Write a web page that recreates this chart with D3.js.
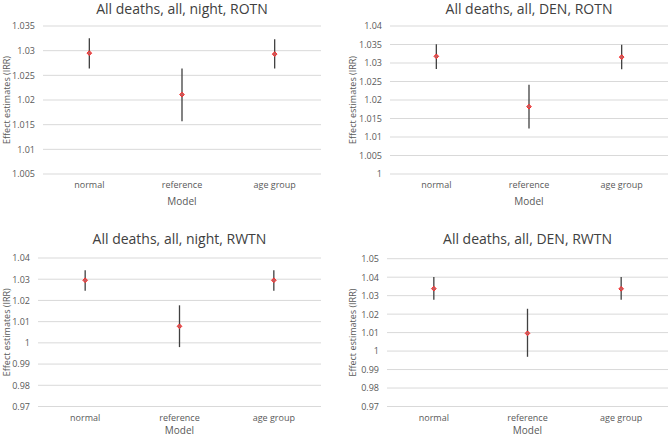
<!DOCTYPE html>
<html>
<head>
<meta charset="utf-8">
<script src="https://cdn.jsdelivr.net/npm/d3@7"></script>
<style>
  body { margin: 0; background: #fff; }
  svg text { font-family: "Open Sans", "Noto Sans", sans-serif; }
</style>
</head>
<body>
<script>
const models = ['normal', 'reference', 'age group'];

// estimate, lower, upper per model
const nightRotnEst = [1.0295, 1.0211, 1.0293];
const nightRotnLow = [1.0264, 1.0157, 1.0264];
const nightRotnHigh = [1.0325, 1.0264, 1.0323];

const denRotnEst = [1.0318, 1.0182, 1.0316];
const denRotnLow = [1.0284, 1.0123, 1.0283];
const denRotnHigh = [1.0351, 1.0241, 1.0349];

const nightRwtnEst = [1.0295, 1.0078, 1.0295];
const nightRwtnLow = [1.0246, 0.9980, 1.0246];
const nightRwtnHigh = [1.0342, 1.0177, 1.0342];

const denRwtnEst = [1.0338, 1.0096, 1.0337];
const denRwtnLow = [1.0278, 0.9969, 1.0278];
const denRwtnHigh = [1.0401, 1.0229, 1.0401];

const ticksNightRotn = ['1.005', '1.01', '1.015', '1.02', '1.025', '1.03', '1.035'];
const ticksDenRotn = ['1', '1.005', '1.01', '1.015', '1.02', '1.025', '1.03', '1.035', '1.04'];
const ticksNightRwtn = ['0.97', '0.98', '0.99', '1', '1.01', '1.02', '1.03', '1.04'];
const ticksDenRwtn = ['0.97', '0.98', '0.99', '1', '1.01', '1.02', '1.03', '1.04', '1.05'];

const panels = [
  { title: 'All deaths, all, night, ROTN', est: nightRotnEst, low: nightRotnLow, high: nightRotnHigh,
    ticks: ticksNightRotn, x0: 43, x1: 321, y0: 26, y1: 174, titleY: 14, modelY: 205, labelX: 10 },
  { title: 'All deaths, all, DEN, ROTN', est: denRotnEst, low: denRotnLow, high: denRotnHigh,
    ticks: ticksDenRotn, x0: 390, x1: 668, y0: 26, y1: 174, titleY: 14, modelY: 205, labelX: 356 },
  { title: 'All deaths, all, night, RWTN', est: nightRwtnEst, low: nightRwtnLow, high: nightRwtnHigh,
    ticks: ticksNightRwtn, x0: 38, x1: 321, y0: 258, y1: 406.5, titleY: 244, modelY: 434, labelX: 10 },
  { title: 'All deaths, all, DEN, RWTN', est: denRwtnEst, low: denRwtnLow, high: denRwtnHigh,
    ticks: ticksDenRwtn, x0: 387, x1: 668, y0: 258.7, y1: 406.5, titleY: 244, modelY: 434, labelX: 356 }
];

const svg = d3.select('body')
  .append('svg')
  .attr('width', 669)
  .attr('height', 437);

panels.forEach(p => draw(p));

function draw(p) {
  const g = svg.append('g');
  const tickVals = p.ticks.map(Number);

  const x = d3.scaleBand()
    .domain(models)
    .range([p.x0, p.x1]);

  const y = d3.scaleLinear()
    .domain(d3.extent(tickVals))
    .range([p.y1, p.y0]);

  // gridlines
  g.append('g')
    .selectAll('line')
    .data(tickVals)
    .enter()
    .append('line')
    .attr('x1', p.x0)
    .attr('x2', p.x1)
    .attr('y1', d => y(d))
    .attr('y2', d => y(d))
    .attr('stroke', '#d9d9d9')
    .attr('stroke-width', 1);

  const yAxis = g.append('g')
    .attr('transform', `translate(${p.x0},0)`)
    .call(d3.axisLeft(y).tickValues(tickVals).tickSize(0).tickPadding(8)
      .tickFormat((d, i) => p.ticks[i]));
  yAxis.select('.domain').remove();
  yAxis.selectAll('text')
    .attr('fill', '#595959')
    .style('font-size', '9px');

  const xAxis = g.append('g')
    .attr('transform', `translate(0,${p.y1})`)
    .call(d3.axisBottom(x).tickSize(0).tickPadding(8));
  xAxis.select('.domain').remove();
  xAxis.selectAll('text')
    .attr('fill', '#595959')
    .style('font-size', '9px');

  g.append('text')
    .attr('x', (p.x0 + p.x1) / 2)
    .attr('y', p.titleY)
    .attr('text-anchor', 'middle')
    .attr('fill', '#404040')
    .style('font-size', '14px')
    .text(p.title);

  g.append('text')
    .attr('x', (p.x0 + p.x1) / 2)
    .attr('y', p.modelY)
    .attr('text-anchor', 'middle')
    .attr('fill', '#595959')
    .style('font-size', '10px')
    .text('Model');

  g.append('text')
    .attr('transform', `translate(${p.labelX},${(p.y0 + p.y1) / 2}) rotate(-90)`)
    .attr('text-anchor', 'middle')
    .attr('fill', '#595959')
    .style('font-size', '9px')
    .text('Effect estimates (IRR)');

  const cx = d => x(d) + x.bandwidth() / 2;

  g.append('g')
    .selectAll('line')
    .data(models)
    .enter()
    .append('line')
    .attr('x1', cx)
    .attr('x2', cx)
    .attr('y1', (d, i) => y(p.low[i]))
    .attr('y2', (d, i) => y(p.high[i]))
    .attr('stroke', '#404040')
    .attr('stroke-width', 1.3);

  g.append('g')
    .selectAll('path')
    .data(models)
    .enter()
    .append('path')
    .attr('d', d3.symbol(d3.symbolDiamond2, 14))
    .attr('transform', (d, i) => `translate(${cx(d)},${y(p.est[i])})`)
    .attr('fill', '#c06060')
    .attr('stroke', '#ff2a2a')
    .attr('stroke-width', 1);
}
</script>
</body>
</html>
